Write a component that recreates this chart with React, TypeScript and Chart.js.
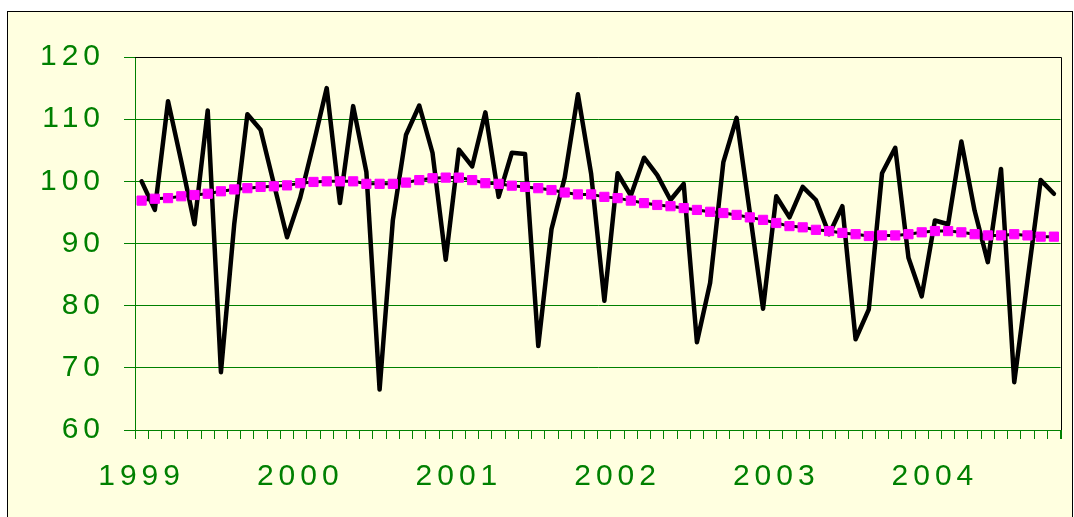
import React, { useEffect, useRef } from 'react';
import { Chart, registerables } from 'chart.js';

Chart.register(...registerables);

const years = ['1999', '2000', '2001', '2002', '2003', '2004'];
const monthNames = ['Jan', 'Feb', 'Mar', 'Apr', 'May', 'Jun', 'Jul', 'Aug', 'Sep', 'Oct', 'Nov', 'Dec'];

const values = [
  100, 95.4, 112.9, 103.2, 93.1, 111.4, 69.3, 93, 110.8, 108.3, 99.6, 91.0,
  97.4, 106, 115.0, 96.5, 112.1, 101.5, 66.5, 93.7, 107.5, 112.2, 104.6, 87.4,
  105.1, 102.4, 111.1, 97.5, 104.6, 104.4, 73.5, 92.3, 100.6, 114.0, 101.2, 80.8,
  101.3, 97.7, 103.8, 101.0, 97.0, 99.6, 74.1, 83.7, 103.1, 110.2, 95, 79.5,
  97.6, 94.2, 99.1, 97.0, 91.5, 96.0, 74.6, 79.4, 101.3, 105.4, 87.7, 81.5,
  93.7, 93.1, 106.4, 95.3, 87.0, 102.0, 67.7, 84, 100.2, 98.0,
];

const trend = [
  96.9, 97.2, 97.3, 97.6, 97.8, 98.0, 98.4, 98.7, 98.9, 99.1, 99.2, 99.35,
  99.7, 99.9, 100.0, 100.0, 100.0, 99.6, 99.6, 99.6, 99.8, 100.2, 100.5, 100.6,
  100.6, 100.2, 99.7, 99.6, 99.3, 99.1, 98.9, 98.6, 98.2, 97.9, 97.9, 97.5,
  97.3, 96.9, 96.5, 96.2, 96.0, 95.7, 95.4, 95.1, 94.9, 94.6, 94.2, 93.8,
  93.3, 92.8, 92.6, 92.2, 92.0, 91.7, 91.5, 91.2, 91.3, 91.3, 91.5, 91.8,
  92.0, 92.0, 91.8, 91.5, 91.3, 91.3, 91.5, 91.3, 91.1, 91.1,
];

const yTicks = [60, 70, 80, 90, 100, 110, 120];

const categories: string[] = [];
for (const y of years) {
  for (const m of monthNames) {
    if (categories.length < values.length) categories.push(m + ' ' + y);
  }
}

const GREEN = '#008000';
const FONT = { family: '"Liberation Sans", Arial, sans-serif', size: 30 };

const plotFrame = {
  id: 'plotFrame',
  beforeDraw(chart: any) {
    chart.ctx.letterSpacing = '5px';
  },
  afterDraw(chart: any) {
    const { ctx, chartArea } = chart;
    ctx.save();
    ctx.lineWidth = 1;
    ctx.strokeStyle = '#000000';
    ctx.beginPath();
    ctx.moveTo(chartArea.left, Math.round(chartArea.top) + 0.5);
    ctx.lineTo(Math.round(chartArea.right) + 0.5, Math.round(chartArea.top) + 0.5);
    ctx.lineTo(Math.round(chartArea.right) + 0.5, chartArea.bottom);
    ctx.stroke();
    ctx.strokeStyle = GREEN;
    ctx.beginPath();
    ctx.moveTo(Math.round(chartArea.right) + 0.5, chartArea.bottom);
    ctx.lineTo(Math.round(chartArea.right) + 0.5, chartArea.bottom + 9);
    ctx.stroke();
    ctx.restore();
  },
};

export default function App() {
  const ref = useRef<HTMLCanvasElement>(null);

  useEffect(() => {
    if (!ref.current) return;
    const chart = new Chart(ref.current, {
      type: 'line',
      data: {
        labels: categories,
        datasets: [
          {
            label: 'Trend',
            data: trend,
            order: 0,
            borderColor: '#000000',
            borderWidth: 3,
            pointStyle: 'rect',
            pointRadius: 6.5,
            pointBorderWidth: 1,
            pointBackgroundColor: '#FF00FF',
            pointBorderColor: '#FF00FF',
            tension: 0,
          },
          {
            label: 'Index',
            data: values,
            order: 1,
            borderColor: '#000000',
            borderWidth: 4.5,
            pointRadius: 0,
            tension: 0,
            borderJoinStyle: 'round',
            borderCapStyle: 'round',
          },
        ],
      },
      options: {
        responsive: false,
        animation: false,
        layout: { padding: { top: 57, right: 12, left: 0, bottom: 0 } },
        plugins: {
          legend: { display: false },
          tooltip: { enabled: false },
        },
        scales: {
          x: {
            type: 'category',
            offset: true,
            grid: {
              offset: true,
              drawOnChartArea: false,
              drawTicks: true,
              tickLength: 9,
              color: GREEN,
            },
            border: { color: GREEN, width: 1 },
            ticks: {
              autoSkip: false,
              maxRotation: 0,
              minRotation: 0,
              padding: 20,
              color: GREEN,
              font: FONT,
              callback: (_v: any, i: number) => (i % 12 === 0 ? years[i / 12] : ''),
            },
            afterFit: (s: any) => {
              s.height = 87;
            },
          },
          y: {
            min: yTicks[0],
            max: yTicks[yTicks.length - 1],
            grid: { color: GREEN, tickLength: 11 },
            border: { color: GREEN, width: 1 },
            ticks: {
              stepSize: 10,
              padding: 19,
              color: GREEN,
              font: FONT,
            },
            afterFit: (s: any) => {
              s.width = 135;
            },
          },
        },
      },
      plugins: [plotFrame],
    });
    return () => chart.destroy();
  }, []);

  return (
    <div style={{ position: 'absolute', left: 0, top: 0, width: 1074, height: 517, background: '#ffffff', overflow: 'hidden' }}>
      <div
        style={{
          position: 'absolute',
          left: 7,
          top: 11,
          width: 1064,
          height: 530,
          border: '1px solid #000000',
          background: '#FFFFE0',
        }}
      />
      <canvas ref={ref} width={1074} height={517} style={{ position: 'absolute', left: 0, top: 0 }} />
    </div>
  );
}
